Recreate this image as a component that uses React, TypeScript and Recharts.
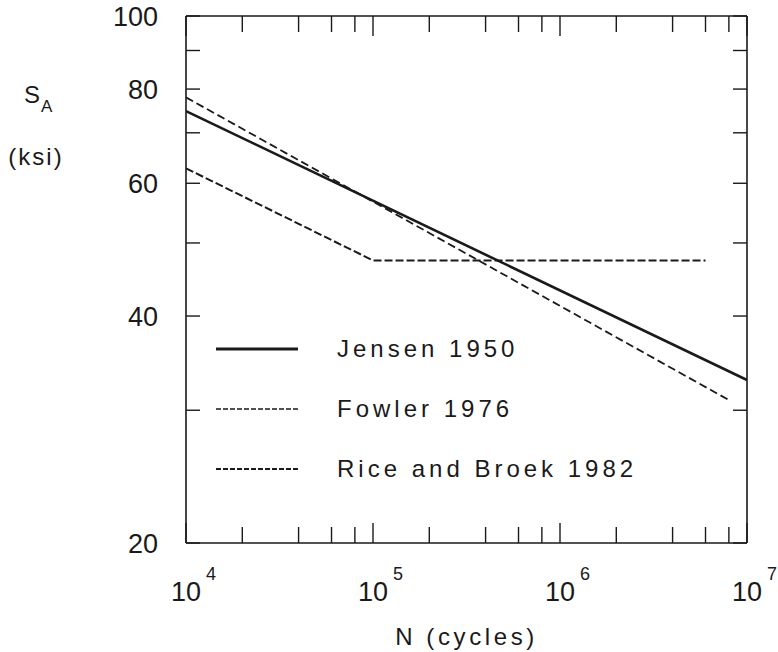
import React from 'react';
import { LineChart, Line, XAxis, YAxis, Legend } from 'recharts';

// tick values (log axes)
const xTicks = [1e4, 2e4, 4e4, 6e4, 8e4, 1e5, 2e5, 4e5, 6e5, 8e5, 1e6, 2e6, 4e6, 6e6, 8e6, 1e7];
const yTicks = [20, 30, 40, 50, 60, 70, 80, 90, 100];
const yLabels = [20, 40, 60, 80, 100];

// S-N curves: N (cycles) vs S_A (ksi)
const jensenN = [1e4, 1e7];
const jensenS = [74.8, 32.9];
const fowlerN = [1e4, 7.9e6];
const fowlerS = [78.0, 31.0];
const riceN = [1e4, 1e5, 6e6];
const riceS = [62.8, 47.4, 47.4];

const names = ['Jensen 1950', 'Fowler 1976', 'Rice and Broek 1982'];

const toPoints = (n: number[], s: number[]) => n.map((v, i) => ({ n: v, s: s[i] }));

const FONT = '"Liberation Sans", Arial, sans-serif';
const INK = '#1a1a1a';

const isDecade = (v: number) => Math.abs(Math.log10(v) - Math.round(Math.log10(v))) < 1e-9;

const BottomTick = (props: any) => {
  const { x, y, payload } = props;
  const v = payload.value;
  const major = isDecade(v);
  return (
    <g>
      <line x1={x} y1={y} x2={x} y2={y - (major ? 20 : 16)} stroke={INK} strokeWidth={1.4} />
      {major && (
        <g fill={INK} fontFamily={FONT}>
          <text x={x} y={y + 58} textAnchor="middle" fontSize={27}>10</text>
          <text x={x + 20} y={y + 37} fontSize={18}>{Math.round(Math.log10(v))}</text>
        </g>
      )}
    </g>
  );
};

const TopTick = (props: any) => {
  const { x, y, payload } = props;
  const major = isDecade(payload.value);
  return <line x1={x} y1={y} x2={x} y2={y + (major ? 20 : 16)} stroke={INK} strokeWidth={1.4} />;
};

const LeftTick = (props: any) => {
  const { x, y, payload } = props;
  const v = payload.value;
  return (
    <g>
      <line x1={x} y1={y} x2={x + 14} y2={y} stroke={INK} strokeWidth={1.4} />
      {yLabels.includes(v) && (
        <text x={x - 28} y={y + 10} textAnchor="end" fontSize={27} fontFamily={FONT} fill={INK}>
          {v}
        </text>
      )}
    </g>
  );
};

const RightTick = (props: any) => {
  const { x, y } = props;
  return <line x1={x} y1={y} x2={x - 14} y2={y} stroke={INK} strokeWidth={1.4} />;
};

const YTitle = (props: any) => {
  const { viewBox } = props;
  const x0 = viewBox.x - 62;
  return (
    <g fill={INK} fontFamily={FONT}>
      <text x={x0} y={103} fontSize={24}>S</text>
      <text x={x0 + 17} y={112} fontSize={17}>A</text>
      <text x={x0 + 12} y={165} fontSize={24} textAnchor="middle" letterSpacing={2}>(ksi)</text>
    </g>
  );
};

const styles: Record<string, { width: number; dash?: string; legendWidth: number; legendDash?: string }> = {
  'Jensen 1950': { width: 2.6, legendWidth: 3 },
  'Fowler 1976': { width: 1.8, dash: '8 4', legendWidth: 1.6, legendDash: '5 2' },
  'Rice and Broek 1982': { width: 2, dash: '8 3', legendWidth: 2.2, legendDash: '5 2' },
};

const LegendBox = () => (
  <div style={{ width: 440 }}>
    {names.map((name) => {
      const st = styles[name];
      return (
        <svg key={name} width={440} height={60} style={{ display: 'block' }}>
          <line x1={0} y1={30} x2={82} y2={30} stroke={INK} strokeWidth={st.legendWidth}
            strokeDasharray={st.legendDash} />
          <text x={121} y={38} fontSize={24} fontFamily={FONT} fill={INK} letterSpacing={4}>
            {name}
          </text>
        </svg>
      );
    })}
  </div>
);

export default function App() {
  return (
    <div style={{ position: 'absolute', left: 0, top: 0, width: 778, height: 652 }}>
      <LineChart width={778} height={652} margin={{ top: 15, right: 30, bottom: 0, left: 86 }}>
        <XAxis
          dataKey="n"
          type="number"
          scale="log"
          domain={[1e4, 1e7]}
          allowDataOverflow
          ticks={xTicks}
          interval={0}
          tickSize={0}
          tickMargin={0}
          tickLine={false}
          height={109}
          axisLine={{ stroke: INK, strokeWidth: 1.6 }}
          tick={BottomTick}
          label={{ value: 'N (cycles)', position: 'insideBottom', offset: 7, fontSize: 24, fontFamily: FONT, fill: INK, letterSpacing: 3.6 }}
        />
        <XAxis
          xAxisId="top"
          orientation="top"
          dataKey="n"
          type="number"
          scale="log"
          domain={[1e4, 1e7]}
          allowDataOverflow
          ticks={xTicks}
          interval={0}
          tickSize={0}
          tickMargin={0}
          tickLine={false}
          height={1}
          axisLine={{ stroke: INK, strokeWidth: 1.6 }}
          tick={TopTick}
        />
        <YAxis
          dataKey="s"
          type="number"
          scale="log"
          domain={[20, 100]}
          allowDataOverflow
          ticks={yTicks}
          interval={0}
          tickSize={0}
          tickMargin={0}
          tickLine={false}
          width={100}
          axisLine={{ stroke: INK, strokeWidth: 1.6 }}
          tick={LeftTick}
          label={<YTitle />}
        />
        <YAxis
          yAxisId="right"
          orientation="right"
          dataKey="s"
          type="number"
          scale="log"
          domain={[20, 100]}
          allowDataOverflow
          ticks={yTicks}
          interval={0}
          tickSize={0}
          tickMargin={0}
          tickLine={false}
          width={1}
          axisLine={{ stroke: INK, strokeWidth: 1.6 }}
          tick={RightTick}
        />
        <Line data={toPoints(jensenN, jensenS)} dataKey="s" name={names[0]} stroke={INK}
          strokeWidth={styles[names[0]].width} dot={false} activeDot={false} isAnimationActive={false} />
        <Line data={toPoints(fowlerN, fowlerS)} dataKey="s" name={names[1]} stroke={INK}
          strokeWidth={styles[names[1]].width} strokeDasharray={styles[names[1]].dash}
          dot={false} activeDot={false} isAnimationActive={false} />
        <Line data={toPoints(riceN, riceS)} dataKey="s" name={names[2]} stroke={INK}
          strokeWidth={styles[names[2]].width} strokeDasharray={styles[names[2]].dash}
          dot={false} activeDot={false} isAnimationActive={false} />
        <Legend
          layout="vertical"
          align="center"
          verticalAlign="middle"
          content={LegendBox}
          wrapperStyle={{ left: 216, top: 319, width: 440, height: 180 }}
        />
      </LineChart>
    </div>
  );
}
